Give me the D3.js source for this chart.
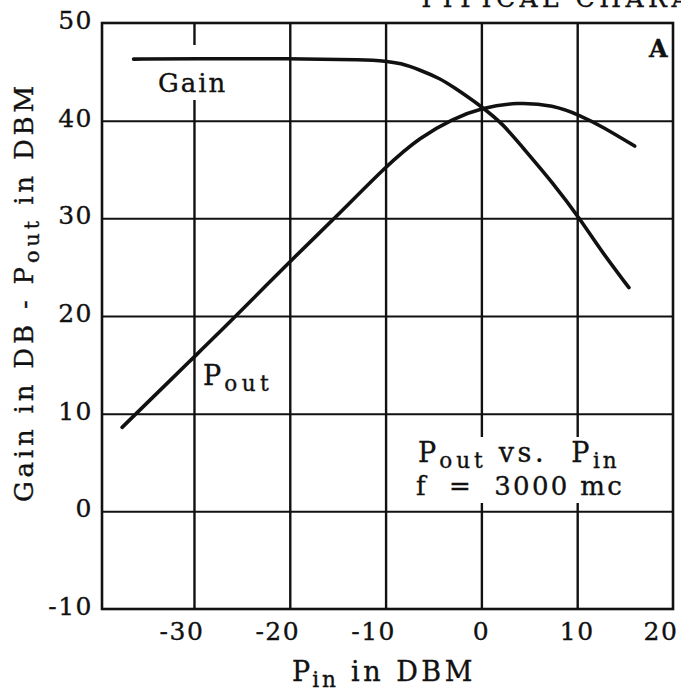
<!DOCTYPE html>
<html>
<head>
<meta charset="utf-8">
<script src="https://cdn.jsdelivr.net/npm/d3@7"></script>
<style>
    html, body { margin: 0; padding: 0; background: #ffffff; }
    svg { display: block; }
    text { font-family: "DejaVu Serif", serif; fill: #111111; stroke: #111111; stroke-width: 0.35px; }
</style>
</head>
<body>
<svg id="Chart"></svg>
<script>
// Gain curve (x = Pin in DBM, y = Gain in DB)
const gainPin = [-36.3, -30, -20, -12, -10, -8.5, -6.4, -4.3, -3.0, 0.1, 2.3, 4.0, 7.5, 10.4, 12.4, 15.4];
const gainDb = [46.3, 46.35, 46.35, 46.25, 46.1, 45.9, 45.2, 44.3, 43.5, 41.4, 39.6, 37.6, 33.6, 29.8, 26.8, 22.9];

// Pout curve (x = Pin in DBM, y = Pout in DBM)
const poutPin = [-37.5, -30, -26, -20, -15.3, -9.8, -6.4, -3.0, 0, 3.7, 7.5, 10.4, 12.6, 16.0];
const poutDbm = [8.6, 15.8, 19.6, 25.6, 30.0, 35.5, 38.3, 40.2, 41.3, 41.9, 41.6, 40.5, 39.4, 37.4];

// Tick values
const xTicks = [-30, -20, -10, 0, 10, 20];
const yTicks = [50, 40, 30, 20, 10, 0, -10];

// SVG Dimensions Variables
let width = 681, height = 692;
let plotLeft = 102, plotRight = 673, plotTop = 23, plotBottom = 609;

let svg = d3.select('#Chart')
    .attr('width', width)
    .attr('height', height);

let xScale = d3.scaleLinear().domain([-39.6, 20]).range([plotLeft, plotRight]);
let yScale = d3.scaleLinear().domain([-10, 50]).range([plotBottom, plotTop]);

// Grid lines via axes with full-length ticks
function drawGrid() {
    let xGrid = d3.axisBottom(xScale).tickValues(xTicks.slice(0, -1)).tickSize(-(plotBottom - plotTop)).tickFormat('');
    svg.append('g')
        .attr('transform', `translate(0, ${plotBottom})`)
        .call(xGrid)
        .call(g => g.select('.domain').remove())
        .call(g => g.selectAll('line').attr('stroke', '#111').attr('stroke-width', 2.4));

    let yGrid = d3.axisLeft(yScale).tickValues(yTicks.slice(1, -1)).tickSize(-(plotRight - plotLeft)).tickFormat('');
    svg.append('g')
        .attr('transform', `translate(${plotLeft}, 0)`)
        .call(yGrid)
        .call(g => g.select('.domain').remove())
        .call(g => g.selectAll('line').attr('stroke', '#111').attr('stroke-width', 2));

    // frame
    svg.append('rect')
        .attr('x', plotLeft).attr('y', plotTop)
        .attr('width', plotRight - plotLeft).attr('height', plotBottom - plotTop)
        .attr('fill', 'none').attr('stroke', '#111').attr('stroke-width', 2.6);
}

// White patches behind the in-plot labels
function drawLabelBoxes() {
    svg.append('rect').attr('x', 150).attr('y', 45).attr('width', 86).attr('height', 55).attr('fill', '#fff');
    svg.append('rect').attr('x', 396).attr('y', 437).attr('width', 262).attr('height', 66).attr('fill', '#fff');
}

// Curves
function drawCurves() {
    let line = d3.line()
        .x(d => xScale(d[0]))
        .y(d => yScale(d[1]))
        .curve(d3.curveBasis);

    svg.append('path')
        .datum(gainPin.map((v, i) => [v, gainDb[i]]))
        .attr('d', line)
        .attr('fill', 'none').attr('stroke', '#111')
        .attr('stroke-width', 3.6).attr('stroke-linecap', 'round');

    svg.append('path')
        .datum(poutPin.map((v, i) => [v, poutDbm[i]]))
        .attr('d', line)
        .attr('fill', 'none').attr('stroke', '#111')
        .attr('stroke-width', 3.6).attr('stroke-linecap', 'round');
}

// Tick labels
function drawTickLabels() {
    svg.selectAll('.ylab')
        .data(yTicks)
        .enter()
        .append('text')
        .attr('class', 'ylab')
        .attr('x', plotLeft - 9)
        .attr('y', d => yScale(d) + 6)
        .attr('text-anchor', 'end')
        .attr('font-size', 25)
        .attr('letter-spacing', 1.5)
        .text(d => d);

    svg.selectAll('.xlab')
        .data(xTicks)
        .enter()
        .append('text')
        .attr('class', 'xlab')
        .attr('x', d => xScale(d) + (d < 0 ? -12 : (d === 20 ? -12 : 0)))
        .attr('y', plotBottom + 31)
        .attr('text-anchor', 'middle')
        .attr('font-size', 25)
        .attr('letter-spacing', 1.5)
        .text(d => d);
}

// Subscripted text helper
function subText(parent, x, y, parts, size) {
    let t = parent.append('text').attr('x', x).attr('y', y).attr('font-size', size)
        .style('white-space', 'pre');
    parts.forEach(p => {
        t.append('tspan')
            .attr('font-size', p.sub ? size * 0.8 : size)
            .attr('dy', p.dy || 0)
            .attr('letter-spacing', p.ls || 0)
            .text(p.t);
    });
    return t;
}

function drawTexts() {
    // title (cut off at the top of the page, as in the scan)
    svg.append('text')
        .attr('x', 418).attr('y', 7)
        .attr('font-size', 25)
        .attr('letter-spacing', 4.5)
        .text('TYPICAL CHARACTERISTICS');

    svg.append('text')
        .attr('x', 649).attr('y', 57)
        .attr('font-size', 24)
        .attr('font-weight', 'bold')
        .text('A');

    svg.append('text')
        .attr('x', 158).attr('y', 92)
        .attr('font-size', 26)
        .attr('letter-spacing', 2)
        .text('Gain');

    subText(svg, 203, 385, [
        { t: 'P', ls: 3 },
        { t: 'out', sub: true, dy: 6, ls: 4.5 }
    ], 27);

    subText(svg, 418, 462, [
        { t: 'P', ls: 3 },
        { t: 'out', sub: true, dy: 6, ls: 4 },
        { t: ' vs.  P', dy: -6, ls: 3.5 },
        { t: 'in', sub: true, dy: 6, ls: 3 }
    ], 27);

    svg.append('text')
        .attr('x', 416).attr('y', 495)
        .attr('font-size', 26)
        .attr('letter-spacing', 2.3)
        .style('white-space', 'pre')
        .text('f  =  3000 mc');

    // x axis title
    subText(svg, 292, 681, [
        { t: 'P', ls: 2 },
        { t: 'in', sub: true, dy: 6, ls: 3 },
        { t: ' in DBM', dy: -6, ls: 3.5 }
    ], 27);

    // y axis title
    let yt = subText(svg, 0, 0, [
        { t: 'Gain in DB - P', ls: 3.8 },
        { t: 'out', sub: true, dy: 6, ls: 4 },
        { t: ' in DBM', dy: -6, ls: 3.8 }
    ], 26);
    yt.attr('transform', 'translate(33, 502) rotate(-90)');
}

drawGrid();
drawLabelBoxes();
drawCurves();
drawTickLabels();
drawTexts();
</script>
</body>
</html>
